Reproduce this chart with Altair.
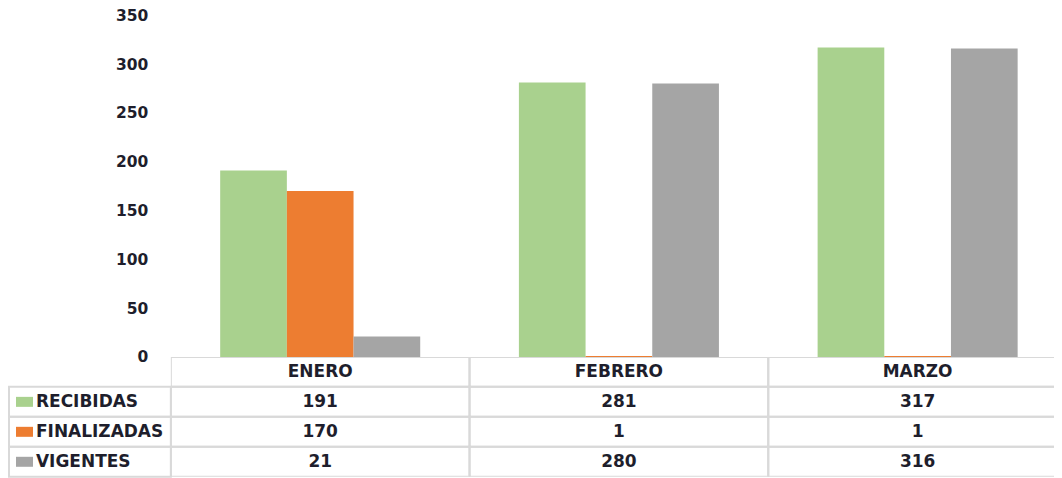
import altair as alt
import pandas as pd

meses = ["ENERO", "FEBRERO", "MARZO"]
series = ["RECIBIDAS", "FINALIZADAS", "VIGENTES"]
recibidas = [191, 281, 317]
finalizadas = [170, 1, 1]
vigentes = [21, 280, 316]
colores = ["#A9D18E", "#ED7D31", "#A5A5A5"]
y_ticks = [0, 50, 100, 150, 200, 250, 300, 350]

FONT = "DejaVu Sans"
TXT = "#1e1e2c"
GRID = "#d9d9d9"
PLOT_W = 884      # visible width of plot/table (window cuts the last column)
COL_RANGE = 897   # full extent of the three month columns
LAB_W = 162

valores = {"RECIBIDAS": recibidas, "FINALIZADAS": finalizadas, "VIGENTES": vigentes}
rows = []
for s in series:
    for m, v in zip(meses, valores[s]):
        rows.append({"mes": m, "serie": s, "valor": v})
df = pd.DataFrame(rows)

HEADER = "MES"
filas = [HEADER] + series

x_scale = alt.Scale(domain=meses, paddingInner=0, paddingOuter=0, range=[0, COL_RANGE])

# ---------- bar chart ----------
color_scale = alt.Scale(domain=series, range=colores)
bars = alt.Chart(df).mark_bar().encode(
    x=alt.X("mes:N", sort=meses, axis=None, scale=x_scale),
    xOffset=alt.XOffset("serie:N", sort=series,
                        scale=alt.Scale(domain=series, paddingInner=0, paddingOuter=0.74)),
    y=alt.Y("valor:Q", scale=alt.Scale(domain=[0, 350], nice=False),
            axis=alt.Axis(values=y_ticks, title=None, grid=False, domain=False, ticks=False,
                          labelPadding=23, labelFont=FONT, labelFontSize=15.5,
                          labelFontWeight="bold", labelColor=TXT)),
    color=alt.Color("serie:N", scale=color_scale, legend=None),
).properties(width=PLOT_W, height=342)

spacer = alt.Chart(pd.DataFrame({"a": [0]})).mark_text(text="").encode(
    x=alt.value(0), y=alt.value(0)
).properties(width=LAB_W, height=342)

# ---------- data table ----------
cells = []
for m in meses:
    cells.append({"mes": m, "fila": HEADER, "texto": m})
    for s in series:
        cells.append({"mes": m, "fila": s, "texto": str(df[(df.mes == m) & (df.serie == s)].valor.iloc[0])})
cells_df = pd.DataFrame(cells)

y_tab = alt.Y("fila:N", sort=filas, axis=None,
              scale=alt.Scale(domain=filas, paddingInner=0, paddingOuter=0))
x_tab = alt.X("mes:N", sort=meses, axis=None, scale=x_scale)

tab_base = alt.Chart(cells_df)
tab_rect = tab_base.mark_rect(fillOpacity=0, stroke=GRID, strokeWidth=2, clip=True).encode(x=x_tab, y=y_tab)
tab_text = tab_base.mark_text(font=FONT, fontSize=17, fontWeight="bold", color=TXT, clip=True).encode(
    x=x_tab, y=y_tab, text="texto:N")
table = alt.layer(tab_rect, tab_text).properties(width=PLOT_W, height=120)

lab_df = pd.DataFrame({"fila": series})
lab_base = alt.Chart(lab_df)
lab_rect = lab_base.mark_rect(fillOpacity=0, stroke=GRID, strokeWidth=2).encode(
    x=alt.value(0), x2=alt.value(LAB_W), y=y_tab)
lab_sw = lab_base.mark_point(shape="M-0.85,-0.5H0.85V0.5H-0.85Z", filled=True, opacity=1, size=400).encode(
    x=alt.value(15.5), y=y_tab,
    color=alt.Color("fila:N", scale=color_scale, legend=None))
lab_txt = lab_base.mark_text(font=FONT, fontSize=17, fontWeight="bold", color=TXT, align="left").encode(
    x=alt.value(27), y=y_tab, text="fila:N")
labels = alt.layer(lab_rect, lab_sw, lab_txt).properties(width=LAB_W, height=120)

chart = alt.concat(spacer, bars, labels, table, columns=2, spacing=0, bounds="flush").properties(
    padding={"left": 0, "top": 0, "right": 0, "bottom": 0}
).configure_view(strokeWidth=0).resolve_scale(color="shared")

chart.save("out.html", embed_options={"renderer": "svg", "actions": False})
